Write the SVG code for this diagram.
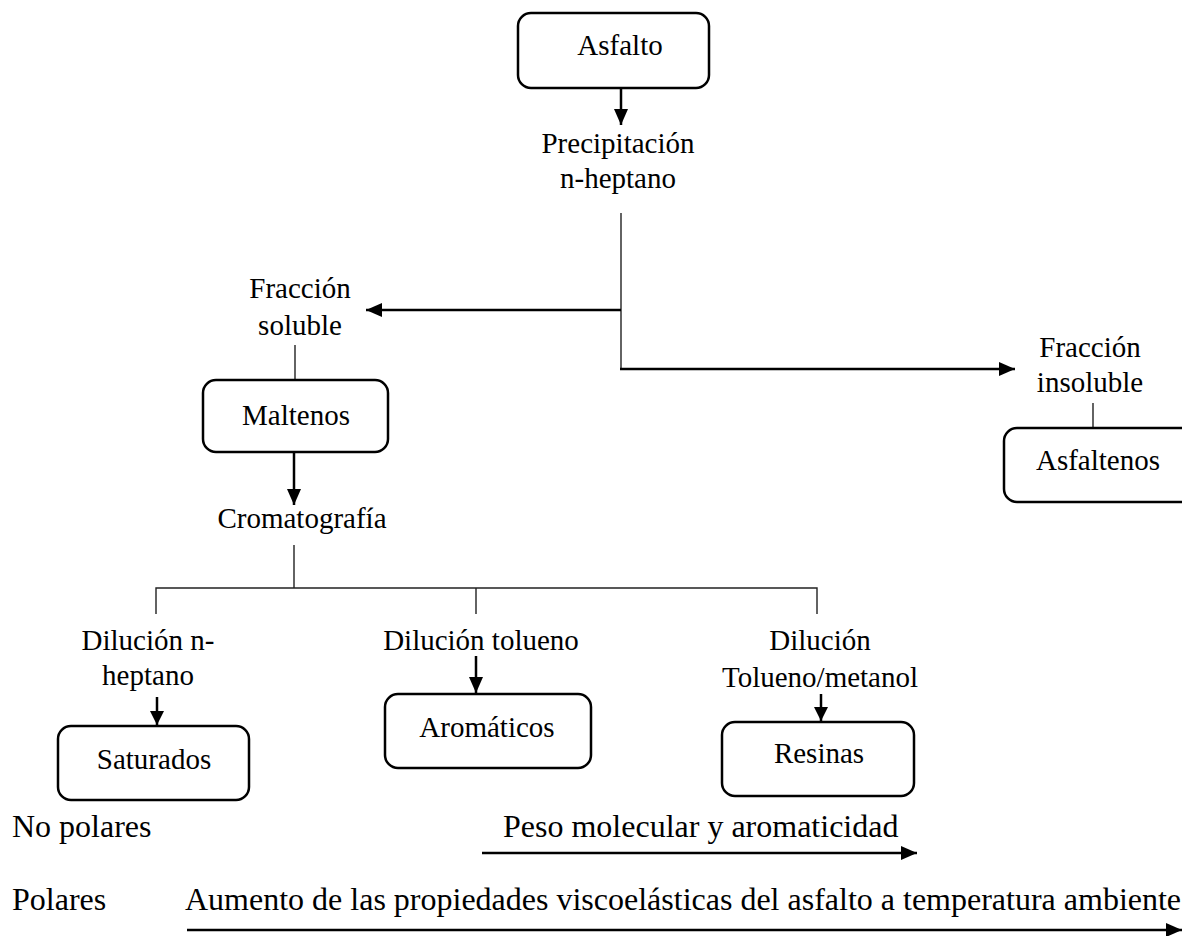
<svg xmlns="http://www.w3.org/2000/svg" width="1182" height="936" viewBox="0 0 1182 936">
<style>
text{font-family:"Liberation Serif","Times New Roman",serif;font-size:29px;fill:#000;text-anchor:middle}
.bot{font-size:32px;text-anchor:start}
.box{fill:#fff;stroke:#000;stroke-width:2.5}
.arr{stroke:#000;stroke-width:2.5;fill:none}
.thin{stroke:#222;stroke-width:1.4;fill:none}
</style>
<defs>
<marker id="ah" markerUnits="userSpaceOnUse" markerWidth="16" markerHeight="14" refX="16" refY="7" orient="auto"><path d="M0,0 L16,7 L0,14 z" fill="#000"/></marker>
<marker id="ahs" markerUnits="userSpaceOnUse" markerWidth="14" markerHeight="14" refX="14" refY="7" orient="auto"><path d="M0,0 L14,7 L0,14 z" fill="#000"/></marker>
</defs>
<g id="connectors">
<line class="arr" x1="621" y1="88" x2="621" y2="125" marker-end="url(#ah)"/>
<polyline class="thin" points="621,213 621,369"/>
<line class="arr" x1="621" y1="310" x2="366" y2="310" marker-end="url(#ah)"/>
<line class="arr" x1="620" y1="369" x2="1015" y2="369" marker-end="url(#ah)"/>
<line class="thin" x1="295" y1="345" x2="295" y2="380"/>
<line class="thin" x1="1093" y1="403" x2="1093" y2="428"/>
<line class="arr" x1="294" y1="452" x2="294" y2="505" marker-end="url(#ah)"/>
<line class="thin" x1="294" y1="545" x2="294" y2="588"/>
<polyline class="thin" points="156,614 156,588 817,588 817,614"/>
<line class="thin" x1="476" y1="588" x2="476" y2="614"/>
<line class="arr" x1="157" y1="697" x2="157" y2="725" marker-end="url(#ahs)"/>
<line class="arr" x1="476" y1="656" x2="476" y2="693" marker-end="url(#ah)"/>
<line class="arr" x1="821" y1="694" x2="821" y2="721" marker-end="url(#ahs)"/>
<line class="arr" x1="482" y1="853" x2="917" y2="853" marker-end="url(#ah)"/>
<line class="arr" x1="187" y1="930" x2="1182" y2="930" marker-end="url(#ah)"/>
</g>
<g id="asfalto"><rect class="box" x="518" y="13" width="191" height="75" rx="13"/><text x="620" y="55">Asfalto</text></g>
<g id="precipitacion"><text x="618" y="153">Precipitación</text><text x="618" y="188">n-heptano</text></g>
<g id="fraccion-soluble"><text x="300" y="298">Fracción</text><text x="300" y="335">soluble</text></g>
<g id="fraccion-insoluble"><text x="1090" y="357">Fracción</text><text x="1090" y="392">insoluble</text></g>
<g id="maltenos"><rect class="box" x="203" y="380" width="185" height="72" rx="13"/><text x="296" y="425">Maltenos</text></g>
<g id="asfaltenos"><rect class="box" x="1004" y="428" width="190" height="74" rx="13"/><text x="1098" y="470">Asfaltenos</text></g>
<g id="cromatografia"><text x="302" y="528">Cromatografía</text></g>
<g id="dil-heptano"><text x="148" y="650">Dilución n-</text><text x="148" y="685">heptano</text></g>
<g id="dil-tolueno"><text x="481" y="650">Dilución tolueno</text></g>
<g id="dil-tolmet"><text x="820" y="650">Dilución</text><text x="820" y="687">Tolueno/metanol</text></g>
<g id="saturados"><rect class="box" x="58" y="726" width="191" height="74" rx="13"/><text x="154" y="769">Saturados</text></g>
<g id="aromaticos"><rect class="box" x="385" y="694" width="206" height="74" rx="13"/><text x="487" y="737">Aromáticos</text></g>
<g id="resinas"><rect class="box" x="722" y="722" width="192" height="74" rx="13"/><text x="819" y="763">Resinas</text></g>
<g id="legend">
<text class="bot" x="12" y="837">No polares</text>
<text class="bot" x="503" y="837">Peso molecular y aromaticidad</text>
<text class="bot" x="12" y="910">Polares</text>
<text class="bot" x="185" y="910">Aumento de las propiedades viscoelásticas del asfalto a temperatura ambiente</text>
</g>
</svg>
